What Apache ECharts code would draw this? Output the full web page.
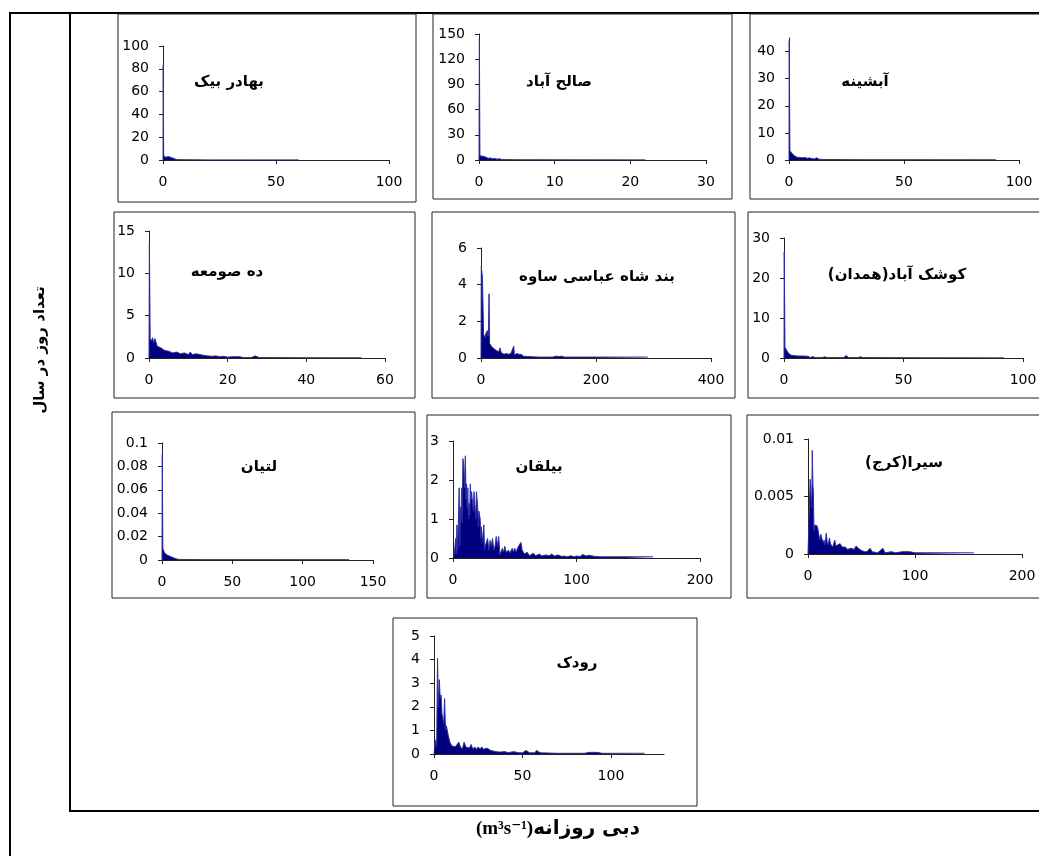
<!DOCTYPE html>
<html>
<head>
<meta charset="utf-8">
<script src="https://cdn.jsdelivr.net/npm/echarts@6/dist/echarts.min.js"></script>
<style>
html, body { margin: 0; padding: 0; background: #fff; }
#main { width: 1039px; height: 856px; }
</style>
</head>
<body>
<div id="main"></div>
<script>
// station names (one per panel)
var stationNames = ['بهادر بیک', 'صالح آباد', 'آبشینه', 'ده صومعه', 'بند شاه عباسی ساوه',
    'کوشک آباد(همدان)', 'لتیان', 'بیلقان', 'سیرا(کرج)', 'رودک'];

// axis ranges and tick labels
var xMax = [100, 30, 100, 60, 400, 100, 150, 200, 200, 130];
var xTicks = [[0, 50, 100], [0, 10, 20, 30], [0, 50, 100], [0, 20, 40, 60], [0, 200, 400],
    [0, 50, 100], [0, 50, 100, 150], [0, 100, 200], [0, 100, 200], [0, 50, 100]];
var yMax = [100, 150, 45, 15, 6, 30, 0.1, 3, 0.01, 5];
var yTicks = [[0, 20, 40, 60, 80, 100], [0, 30, 60, 90, 120, 150], [0, 10, 20, 30, 40],
    [0, 5, 10, 15], [0, 2, 4, 6], [0, 10, 20, 30], [0, 0.02, 0.04, 0.06, 0.08, 0.1],
    [0, 1, 2, 3], [0, 0.005, 0.01], [0, 1, 2, 3, 4, 5]];

// [discharge, days]
var bahadorBeig = [[0,0],[0.1,83],[0.3,4],[0.6,3],[0.9,4.5],[1.2,2.5],[1.6,3.5],[2,2],[2.5,3],[3,1.5],
    [3.5,2.2],[4,1],[5,1.2],[6,0.5],[8,0.3],[12,0.2],[20,0.1],[40,0.1],[60,0.1]];
var salehAbad = [[0,0],[0.05,145],[0.12,5],[0.3,4],[0.5,4.5],[0.7,3],[0.9,3.5],[1.2,2],[1.5,2.5],[1.8,1.5],
    [2.1,1.8],[2.4,1],[2.7,1.5],[3,0.5],[5,0.3],[10,0.2],[22,0.2]];
var abshineh = [[0,0],[0.1,44],[0.4,3.5],[0.8,3],[1.2,2.5],[1.6,2.8],[2,2],[2.5,1.5],[3,1.8],[3.5,1],
    [4,1.3],[5,0.9],[6,0.8],[7,0.9],[8,0.6],[9,0.8],[10,0.5],[11,0.4],[12,0.8],[13,0.3],[15,0.2],
    [30,0.1],[60,0.1],[90,0.1]];
var dehSomeh = [[0,0],[0.1,13.7],[0.3,2.3],[0.6,2],[0.9,2.4],[1.2,1.8],[1.5,2.3],[1.8,2.2],[2.1,1.4],
    [2.5,1.6],[3,1.2],[3.5,1.3],[4,0.9],[4.5,1.1],[5,0.8],[5.5,1],[6,0.6],[7,0.7],[8,0.5],[9,0.6],
    [10,0.4],[10.5,0.7],[11,0.4],[12,0.5],[13,0.4],[13.5,0.5],[14,0.3],[15,0.25],[16,0.2],[17,0.25],
    [18,0.15],[19,0.2],[20,0.1],[21,0.15],[22,0.15],[23,0.15],[24,0.05],[26,0.05],[27,0.25],[28,0.05],
    [40,0.03],[54,0.03]];
var bandShahAbbasi = [[0,0],[0.5,5],[1.5,4.9],[2.5,4.4],[3.5,4.4],[4.5,1.3],[6,1.2],[7,1.1],[8,1.3],
    [9.5,1.4],[11,1.5],[12,1.2],[13,1.4],[14,3.5],[15,0.8],[17,0.7],[19,0.6],[21,0.65],[23,0.5],
    [25,0.6],[27,0.4],[29,0.5],[31,0.35],[33,0.55],[35,0.3],[38,0.35],[40,0.2],[44,0.25],[48,0.2],
    [52,0.25],[55,0.2],[57,0.65],[58,0.15],[62,0.25],[66,0.2],[70,0.2],[74,0.1],[80,0.08],[100,0.05],
    [125,0.05],[130,0.1],[136,0.08],[140,0.1],[145,0.05],[200,0.05],[290,0.05]];
var kooshkAbad = [[0,0],[0.1,26.5],[0.4,2.7],[0.8,2.2],[1.2,1.8],[1.6,1.4],[2,1.1],[2.5,0.9],[3,0.7],
    [4,0.6],[5,0.55],[6,0.5],[8,0.5],[10,0.45],[11,0.1],[12,0.35],[13,0.1],[16,0.1],[17,0.3],[18,0.1],
    [25,0.1],[26,0.6],[27,0.1],[31,0.1],[32,0.3],[33,0.1],[60,0.05],[92,0.05]];
var latyan = [[0,0],[0.2,0.09],[0.6,0.01],[1.2,0.009],[1.8,0.006],[2.5,0.005],[3,0.0045],[4,0.004],
    [5,0.0035],[6,0.003],[7,0.0025],[8,0.002],[9,0.002],[10,0.001],[12,0.0005],[30,0.0003],
    [80,0.0003],[133,0.0003]];
var bilghan = [[0,0],[1,0.1],[1.8,0.1],[2.2,0.5],[2.6,0.1],[3.2,0.85],[3.8,0.2],[4.5,0.2],[5,1.8],
    [5.5,0.3],[6,1.3],[6.5,1.1],[7,1.8],[7.5,0.9],[8,2.55],[8.7,2.4],[9.3,1.8],[10,2.62],[10.6,1.5],
    [11,1.9],[11.5,1.3],[12,1.8],[12.6,1],[13,1.4],[13.6,1.1],[14,1.9],[14.5,1.5],[15,1.7],[16,1.7],
    [16.5,1.2],[17,1.7],[18,1.7],[18.5,1],[19,1.7],[20,1.3],[20.5,0.8],[21,1.2],[22,1],[22.5,0.5],
    [23,0.8],[24,0.4],[25,0.85],[25.5,0.2],[26,0.3],[27,0.4],[28,0.5],[29,0.2],[30,0.45],[31,0.3],
    [32,0.5],[33,0.2],[34,0.3],[35,0.55],[36,0.3],[37,0.55],[38,0.08],[39,0.1],[40,0.25],[41,0.15],
    [42,0.3],[43,0.15],[45,0.2],[46,0.12],[48,0.25],[49,0.15],[50,0.25],[51,0.15],[52,0.2],[53,0.3],
    [55,0.4],[56,0.2],[57,0.25],[58,0.1],[60,0.15],[62,0.06],[63,0.08],[65,0.12],[67,0.06],[70,0.1],
    [72,0.05],[75,0.08],[78,0.06],[80,0.1],[82,0.05],[85,0.08],[88,0.04],[90,0.05],[93,0.03],
    [95,0.06],[98,0.03],[100,0.05],[103,0.04],[105,0.09],[108,0.05],[110,0.07],[115,0.04],[120,0.03],
    [140,0.03],[162,0.03]];
var sira = [[0,0],[1.5,0],[2,0.0065],[3,0.0066],[3.5,0.004],[4,0.009],[4.6,0.006],[5,0.0055],
    [5.6,0.002],[6,0.0025],[7,0.0024],[8,0.0025],[9,0.0023],[10,0.0022],[11,0.0012],[12,0.0017],
    [13,0.0018],[14,0.001],[15,0.0012],[16,0.0008],[17,0.0018],[18,0.001],[19,0.0008],[20,0.0014],
    [21,0.0009],[22,0.0009],[23,0.0006],[25,0.0012],[26,0.0007],[28,0.0008],[30,0.0009],[32,0.0006],
    [35,0.0006],[37,0.0004],[40,0.0005],[43,0.0004],[45,0.0007],[47,0.0005],[50,0.0003],[53,0.0002],
    [55,0.0002],[58,0.0005],[60,0.0002],[65,0.0001],[70,0.0005],[72,0.0001],[78,0.0002],[82,0.0001],
    [88,0.0002],[95,0.0002],[100,0.0001],[155,0.0001]];
var roodak = [[0,0],[0.8,0.6],[1.5,0.3],[2,4.05],[2.5,2],[3,3.15],[3.5,2.4],[4,2.5],[4.5,1.7],[5,1.65],
    [5.5,1.3],[6,2.35],[6.5,1],[7,1.2],[8,0.8],[9,0.5],[10,0.35],[11,0.3],[12,0.3],[13,0.25],[14,0.5],
    [15,0.3],[16,0.2],[17,0.5],[18,0.3],[19,0.35],[20,0.25],[21,0.4],[22,0.2],[23,0.3],[24,0.2],
    [25,0.3],[26,0.2],[27,0.3],[28,0.2],[30,0.25],[32,0.15],[33,0.15],[35,0.1],[37,0.08],[38,0.12],
    [40,0.1],[42,0.06],[45,0.1],[48,0.05],[50,0.05],[52,0.15],[54,0.05],[55,0.08],[57,0.05],[58,0.15],
    [60,0.05],[70,0.03],[85,0.03],[88,0.07],[92,0.07],[95,0.03],[119,0.03]];

var seriesData = [bahadorBeig, salehAbad, abshineh, dehSomeh, bandShahAbbasi,
    kooshkAbad, latyan, bilghan, sira, roodak];

// layout: plot area [left, top, right, bottom], panel frame [x, y, w, h], title centre
var plots = [[163, 46, 389, 160], [479, 34, 706, 160], [789, 38, 1019, 160],
    [149, 231, 385, 358], [481, 248, 711, 358], [784, 238, 1023, 358],
    [162, 443, 373, 560], [453, 441, 700, 558], [808, 439, 1022, 554],
    [434, 636, 664, 754]];
var frames = [[118, 14, 298, 188], [433, 14, 299, 185], [750, 14, 300, 185],
    [114, 212, 301, 186], [432, 212, 303, 186], [748, 212, 300, 186],
    [112, 412, 303, 186], [427, 415, 304, 183], [747, 415, 300, 183],
    [393, 618, 304, 188]];
var titlePos = [[229, 82], [559, 82], [865, 82], [227, 272], [597, 277], [897, 275],
    [259, 467], [539, 467], [904, 463], [577, 663]];

var myChart = echarts.init(document.getElementById('main'));

var axisCol = '#222';
var grids = [], xAxes = [], yAxes = [], series = [];
var graphics = [
    { type: 'line', shape: { x1: 9, y1: 13, x2: 1039, y2: 13 }, style: { stroke: '#000', lineWidth: 2 } },
    { type: 'line', shape: { x1: 10, y1: 12, x2: 10, y2: 856 }, style: { stroke: '#000', lineWidth: 2 } },
    { type: 'line', shape: { x1: 70, y1: 12, x2: 70, y2: 812 }, style: { stroke: '#000', lineWidth: 2 } },
    { type: 'line', shape: { x1: 69, y1: 811, x2: 1039, y2: 811 }, style: { stroke: '#000', lineWidth: 2 } },
    {
        type: 'text', x: 40, y: 350, rotation: Math.PI / 2,
        style: { text: 'تعداد روز در سال', font: 'bold 15px "DejaVu Sans"', fill: '#000',
            align: 'center', verticalAlign: 'middle' }
    },
    {
        type: 'text', x: 558, y: 829,
        style: {
            text: '{a|(m³s⁻¹)}{b|دبی روزانه}',
            align: 'center', verticalAlign: 'middle',
            rich: {
                a: { font: 'bold 19px "Liberation Serif", "DejaVu Serif"', fill: '#000' },
                b: { font: 'bold 20px "DejaVu Sans"', fill: '#000' }
            }
        }
    }
];

for (var i = 0; i < seriesData.length; i++) {
    var p = plots[i];
    grids.push({ left: p[0], top: p[1], width: p[2] - p[0], height: p[3] - p[1],
        outerBoundsMode: 'none', containLabel: false });
    xAxes.push({
        type: 'value', gridIndex: i, min: 0, max: xMax[i],
        axisLine: { show: true, onZero: false, lineStyle: { color: axisCol, width: 1 } },
        axisTick: { show: true, inside: false, length: 4, customValues: xTicks[i], lineStyle: { color: axisCol } },
        axisLabel: { customValues: xTicks[i], margin: 15, color: '#000', fontSize: 14,
            fontFamily: 'DejaVu Sans', formatter: function (v) { return String(v); } },
        splitLine: { show: false }
    });
    yAxes.push({
        type: 'value', gridIndex: i, min: 0, max: yMax[i],
        axisLine: { show: true, onZero: false, lineStyle: { color: axisCol, width: 1 } },
        axisTick: { show: true, inside: false, length: 4, customValues: yTicks[i], lineStyle: { color: axisCol } },
        axisLabel: { customValues: yTicks[i], margin: 14, color: '#000', fontSize: 14,
            fontFamily: 'DejaVu Sans', formatter: function (v) { return String(v); } },
        splitLine: { show: false }
    });
    series.push({
        type: 'line', xAxisIndex: i, yAxisIndex: i, data: seriesData[i],
        symbol: 'none', showSymbol: false,
        lineStyle: { color: '#2d2da8', width: 1 },
        areaStyle: { color: '#000080', opacity: 1 },
        z: 3
    });
    var f = frames[i];
    graphics.push({ type: 'rect', shape: { x: f[0], y: f[1], width: f[2], height: f[3] },
        style: { fill: null, stroke: '#222', lineWidth: 1 } });
    graphics.push({
        type: 'text', x: titlePos[i][0], y: titlePos[i][1],
        style: { text: '\u200F' + stationNames[i] + '\u200F',
            font: 'bold 15px "DejaVu Sans"', fill: '#000',
            align: 'center', verticalAlign: 'middle' }
    });
}

myChart.setOption({
    animation: false,
    grid: grids,
    xAxis: xAxes,
    yAxis: yAxes,
    series: series,
    graphic: graphics
});
</script>
</body>
</html>
